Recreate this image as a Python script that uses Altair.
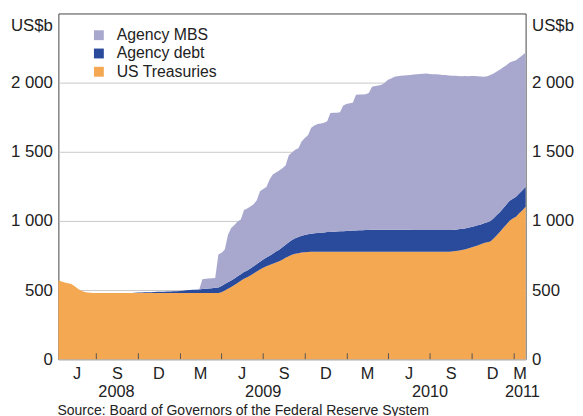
import altair as alt
import pandas as pd

# ---- data (US$b, weekly, Wednesdays from 9 Apr 2008) ----
START = "2008-04-09"
N_WEEKS = 147

treasuries = [
    570, 562, 555, 550, 544, 530, 512, 496, 488, 483, 480,
    478, 478, 478, 478, 478, 478, 478, 478, 478, 478,
    478, 478, 478, 478, 478, 478, 478, 478, 478, 478,
    478, 478, 478, 478, 478, 478, 478, 478, 478, 478,
    478, 478, 478, 478, 478, 478, 478, 478, 478, 478,
    485, 497, 510, 522, 537, 552, 567, 582, 592, 606,
    620, 635, 648, 662, 672, 681, 690, 699, 708, 720,
    733, 745, 755, 762, 767, 771, 774, 776, 777,
    777, 777, 777, 777, 777, 777, 777, 777, 777, 777,
    777, 777, 777, 777, 777, 777, 777, 777, 777, 777,
    777, 777, 777, 777, 777, 777, 777, 777, 777, 777,
    777, 777, 777, 777, 777, 777, 777, 777, 777, 777,
    777, 777, 777,
    779, 782, 785, 789, 793, 800, 807, 815, 823, 832,
    841, 846, 852, 872, 897, 922, 948, 975, 1002, 1018,
    1031, 1055, 1078, 1102,
]

agency_debt = [
    0, 0, 0, 0, 0, 0, 0, 0, 0, 0, 0, 0,
    0, 0, 0, 0, 0, 0, 0, 0, 0, 0, 0, 0,
    2, 4, 5, 6, 7, 7, 8, 9, 10, 10,
    11, 12, 13, 14, 15, 17, 20, 22, 24, 25,
    27, 29, 31, 33, 36, 38, 41,
    45, 46, 47, 47, 47, 48, 48, 48, 49, 50,
    52, 54, 57, 59, 63, 68, 73, 79, 84, 89,
    95, 101, 107, 112, 117, 121, 125, 128, 131, 134,
    136, 138, 140, 142, 143, 145, 146, 148, 149, 150,
    152, 153, 154, 155, 156, 157, 158,
    159, 159, 159, 159, 159, 159, 159, 159, 159, 159, 159, 159, 159,
    158, 158, 158, 158, 158, 158, 158, 158,
    157, 157, 157, 157,
    156, 155, 155, 154, 153, 151, 149, 147, 145, 143,
    142, 145, 148, 147, 145, 143, 143, 143, 143, 143,
    143, 143, 143, 143,
]

agency_mbs = [
    0, 0, 0, 0, 0, 0, 0, 0, 0, 0,
    0, 0, 0, 0, 0, 0, 0, 0, 0, 0,
    0, 0, 0, 0, 0, 0, 0, 0, 0, 0,
    0, 0, 0, 0, 0, 0, 0, 0, 0, 0,
    0, 0, 0, 0, 0,
    72, 72, 72, 72, 72,
    238, 240, 250, 343, 379, 386, 395, 395, 449, 449,
    449, 449, 461, 510, 510, 510, 551, 572, 572, 572,
    572, 572, 629, 633, 641, 641, 683, 701, 716, 766,
    779, 787, 790, 792, 801, 860, 860, 860, 860, 909,
    918, 921, 925, 981, 982, 982, 982, 990, 1034, 1039,
    1044, 1049, 1064, 1084, 1094, 1107, 1111, 1114, 1116, 1118,
    1119, 1123, 1125, 1127, 1129, 1131, 1128, 1125, 1126, 1124,
    1122, 1121, 1118, 1115, 1112, 1108, 1104, 1102, 1096, 1092,
    1086, 1078, 1070, 1060, 1055, 1055, 1047, 1038, 1030, 1021,
    1007, 1000, 994, 988, 982, 977, 972,
]

series_names = ["Agency MBS", "Agency debt", "US Treasuries"]
series_colors = ["#a8a8ce", "#2a4a9c", "#f5a852"]

quarter_ticks = ["2008-07-01", "2008-10-01", "2009-01-01", "2009-04-01",
                 "2009-07-01", "2009-10-01", "2010-01-01", "2010-04-01",
                 "2010-07-01", "2010-10-01", "2011-01-01"]
month_label_dates = ["2008-05-20", "2008-08-16", "2008-11-15", "2009-02-14",
                     "2009-05-16", "2009-08-16", "2009-11-15", "2010-02-14",
                     "2010-05-16", "2010-08-16", "2010-11-15", "2011-01-14"]
month_labels = ["J", "S", "D", "M", "J", "S", "D", "M", "J", "S", "D", "M"]
year_label_dates = ["2008-08-14", "2009-07-01", "2010-07-01", "2011-01-19"]
year_labels = ["2008", "2009", "2010", "2011"]
y_tick_values = [0, 500, 1000, 1500, 2000]
source_text = "Source: Board of Governors of the Federal Reserve System"

# ---- build tables ----
dates = pd.date_range(START, periods=N_WEEKS, freq="7D").strftime("%Y-%m-%dT00:00:00")
rows = []
for order, (name, vals) in enumerate(
        [("US Treasuries", treasuries), ("Agency debt", agency_debt), ("Agency MBS", agency_mbs)]):
    for d, v in zip(dates, vals):
        rows.append({"date": d, "series": name, "value": v, "ord": order})
df = pd.DataFrame(rows)

ticks_df = pd.DataFrame({"date": [d + "T00:00:00" for d in quarter_ticks]})
months_df = pd.DataFrame({"date": [d + "T00:00:00" for d in month_label_dates], "label": month_labels})
years_df = pd.DataFrame({"date": [d + "T00:00:00" for d in year_label_dates], "label": year_labels})
src_df = pd.DataFrame({"label": [source_text]})

FONT = "Liberation Sans"
TXT = "#222222"
W, H = 473, 350
AX_FS = 17

xscale = alt.Scale(domain=[alt.DateTime(year=2008, month=4, date=9),
                           alt.DateTime(year=2011, month=1, date=26)], nice=False)
yscale = alt.Scale(domain=[0, 2500], nice=False)
label_expr = "replace(format(datum.value, ','), ',', ' ')"

left_axis = alt.Axis(values=y_tick_values, labelExpr=label_expr, ticks=False, domain=False,
                     grid=True, gridColor="#c8c8c8", gridWidth=1, labelPadding=6,
                     labelFontSize=AX_FS, labelFont=FONT, labelColor=TXT,
                     title="US$b", titleAngle=0, titleAlign="right", titleBaseline="alphabetic",
                     titleX=-6, titleY=17, titleFontSize=AX_FS, titleFont=FONT,
                     titleFontWeight="normal", titleColor=TXT)
right_axis = alt.Axis(values=y_tick_values, labelExpr=label_expr, ticks=False, domain=False,
                      grid=False, orient="right", labelPadding=6,
                      labelFontSize=AX_FS, labelFont=FONT, labelColor=TXT,
                      title="US$b", titleAngle=0, titleAlign="left", titleBaseline="alphabetic",
                      titleX=6, titleY=17, titleFontSize=AX_FS, titleFont=FONT,
                      titleFontWeight="normal", titleColor=TXT)

areas = alt.Chart(df).mark_area(interpolate="linear").encode(
    x=alt.X("date:T", scale=xscale, axis=None),
    y=alt.Y("value:Q", stack="zero", scale=yscale, axis=left_axis),
    color=alt.Color("series:N",
                    scale=alt.Scale(domain=series_names, range=series_colors),
                    legend=alt.Legend(orient="none", legendX=33, legendY=14, title=None,
                                      symbolType="square", symbolSize=100, symbolStrokeWidth=0,
                                      labelFontSize=16, labelFont=FONT, labelColor=TXT,
                                      labelOffset=10, rowPadding=2.5, padding=0)),
    order=alt.Order("ord:Q"),
)

right = alt.Chart(df).mark_line(opacity=0).encode(
    x=alt.X("date:T", scale=xscale, axis=None),
    y=alt.Y("value:Q", scale=yscale, axis=right_axis),
)

tick_marks = alt.Chart(ticks_df).mark_rule(color="#555555", strokeWidth=1).encode(
    x=alt.X("date:T", scale=xscale, axis=None),
    y=alt.value(H - 6),
    y2=alt.value(H),
)

month_text = alt.Chart(months_df).mark_text(
    font=FONT, fontSize=16.5, color=TXT, align="center", baseline="alphabetic").encode(
    x=alt.X("date:T", scale=xscale, axis=None),
    y=alt.value(H + 20.5),
    text="label:N",
)

year_text = alt.Chart(years_df).mark_text(
    font=FONT, fontSize=16.5, color=TXT, align="center", baseline="alphabetic").encode(
    x=alt.X("date:T", scale=xscale, axis=None),
    y=alt.value(H + 38),
    text="label:N",
)

source = alt.Chart(src_df).mark_text(
    font=FONT, fontSize=14.2, color=TXT, align="left", baseline="alphabetic").encode(
    x=alt.value(-1),
    y=alt.value(H + 56),
    text="label:N",
)

chart = alt.layer(areas, right, tick_marks, month_text, year_text, source).resolve_axis(
    y="independent"
).properties(
    width=W, height=H,
    autosize=alt.AutoSizeParams(type="none"),
    padding={"left": 51, "top": 3, "right": 50, "bottom": 60},
).configure_view(stroke="#444444", strokeWidth=1)

chart.save("out.html", embed_options={"renderer": "svg", "actions": False})
